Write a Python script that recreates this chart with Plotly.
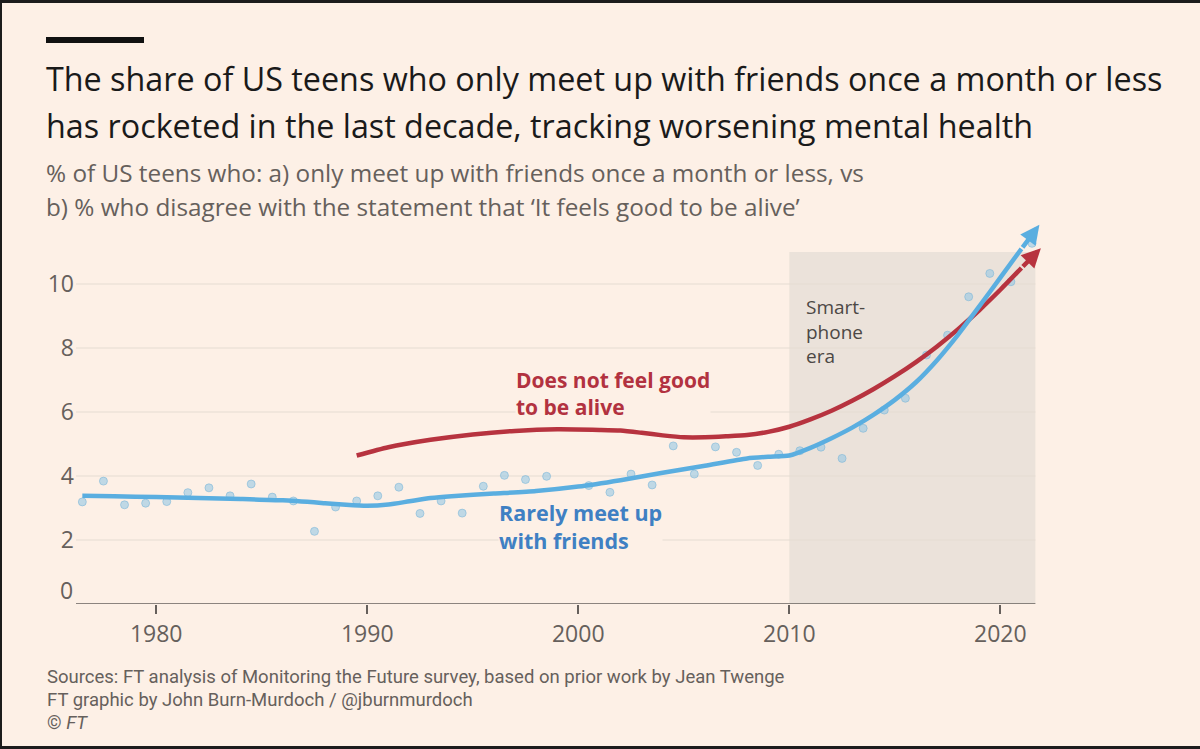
import plotly.graph_objects as go

# yearly survey points: % of teens who meet up with friends once a month or less
years = list(range(1976, 2022))
rarely_meet = [3.19, 3.84, 3.10, 3.15, 3.20, 3.48, 3.63, 3.38, 3.75, 3.34,
               3.22, 2.27, 3.03, 3.22, 3.38, 3.65, 2.83, 3.22, 2.84, 3.68,
               4.02, 3.89, 3.99, 2.68, 3.70, 3.49, 4.06, 3.72, 4.94, 4.06,
               4.91, 4.74, 4.33, 4.68, 4.79, 4.90, 4.55, 5.49, 6.06, 6.43,
               7.78, 8.40, 9.60, 10.33, 10.07, 11.27]

# smoothed trend lines
blue_trend_x = [1976.5, 1978, 1980, 1982, 1984, 1986, 1988, 1989, 1990, 1991,
                1992, 1993, 1994, 1996, 1998, 2000, 2002, 2004, 2006, 2008,
                2009, 2010, 2011, 2012, 2013, 2014, 2015, 2016, 2017, 2018,
                2019, 2020, 2021]
blue_trend = [3.38, 3.37, 3.34, 3.31, 3.28, 3.24, 3.15, 3.10, 3.07, 3.11,
              3.21, 3.31, 3.37, 3.45, 3.53, 3.67, 3.87, 4.10, 4.32, 4.55,
              4.60, 4.64, 4.88, 5.18, 5.52, 5.92, 6.38, 6.93, 7.62, 8.42,
              9.30, 10.20, 11.10]

red_trend_x = [1989.5, 1991, 1993, 1995, 1997, 1999, 2001, 2002, 2003, 2004,
               2005, 2006, 2007, 2008, 2009, 2010, 2011, 2012, 2013, 2014,
               2015, 2016, 2017, 2018, 2019, 2020, 2021]
red_trend = [4.64, 4.90, 5.13, 5.30, 5.41, 5.46, 5.44, 5.42, 5.35, 5.27,
             5.21, 5.21, 5.24, 5.28, 5.38, 5.54, 5.77, 6.04, 6.36, 6.72,
             7.12, 7.56, 8.05, 8.59, 9.18, 9.82, 10.50]

# arrow tips at the end of each trend
blue_tip = (2021.85, 11.85)
red_tip = (2021.92, 11.12)

y_ticks = [2, 4, 6, 8, 10]
x_ticks = [1980, 1990, 2000, 2010, 2020]
smartphone_start = 2010

cream = "#fdf0e6"
shade = "#ebe2da"
grid = "#e6dbd1"
axis_col = "#66605c"
red = "#b7333f"
blue = "#5aaee0"
blue_text = "#3f80c3"
red_text = "#b23240"

# plot area in pixels
L, R, T, B = 76, 149, 220, 145
W, H = 1200, 749
x_lo, x_hi = 1976.2, 2022.4
x_end = 2021.66
y_top = 11.0


def px(p):
    return (p - L) / (W - L - R)


def py(p):
    return (H - B - p) / (H - T - B)


fig = go.Figure()

fig.add_trace(go.Scatter(
    x=[y + 0.5 for y in years], y=rarely_meet, mode="markers",
    marker=dict(size=8, color="rgba(150,200,228,0.6)",
                line=dict(width=1, color="rgba(120,180,215,0.55)")),
    hoverinfo="skip", showlegend=False))

fig.add_trace(go.Scatter(
    x=red_trend_x, y=red_trend, mode="lines",
    line=dict(color=red, width=4.5, shape="spline", smoothing=0.6),
    showlegend=False))

fig.add_trace(go.Scatter(
    x=blue_trend_x, y=blue_trend, mode="lines",
    line=dict(color=blue, width=4.5, shape="spline", smoothing=0.6),
    showlegend=False))

shapes = []
# smartphone era shading
shapes.append(dict(type="rect", xref="x", yref="y", x0=smartphone_start, x1=x_end,
                   y0=0, y1=y_top, fillcolor=shade, line_width=0, layer="below"))
for v in y_ticks:
    shapes.append(dict(type="line", xref="x", yref="y", x0=x_lo, x1=x_end, y0=v, y1=v,
                       line=dict(color=grid, width=1.2), layer="below"))
# x axis line
shapes.append(dict(type="line", xref="x", yref="y", x0=x_lo, x1=x_end, y0=0, y1=0,
                   line=dict(color=axis_col, width=1.6)))
# FT black bar at top
shapes.append(dict(type="rect", xref="paper", yref="paper", x0=px(46), x1=px(144),
                   y0=py(43), y1=py(37), fillcolor="#111111", line_width=0))
# dark screen edges
for x0, x1, y0, y1 in [(0, W, 0, 3), (0, 2, 0, H), (0, W, 746, H)]:
    shapes.append(dict(type="rect", xref="paper", yref="paper", x0=px(x0), x1=px(x1),
                       y0=py(y1), y1=py(y0), fillcolor="#1c1c1c", line_width=0))

annotations = []


def text(s, x, y, size, color, family="Open Sans", anchor="left"):
    annotations.append(dict(text=s, x=px(x), y=py(y), xref="paper", yref="paper",
                            xanchor=anchor, yanchor="middle", showarrow=False,
                            font=dict(family=family, size=size, color=color)))


text("The share of US teens who only meet up with friends once a month or less", 44, 78, 32.3, "#1a1a1a")
text("has rocketed in the last decade, tracking worsening mental health", 44, 125, 32.3, "#1a1a1a")
text("% of US teens who: a) only meet up with friends once a month or less, vs", 44, 172, 24.3, "#66605c")
text("b) % who disagree with the statement that \u2018It feels good to be alive\u2019", 44, 206, 24.3, "#66605c")
text("Sources: FT analysis of Monitoring the Future survey, based on prior work by Jean Twenge",
     45, 677, 18.5, "#66605c", family="Roboto")
text("FT graphic by John Burn-Murdoch / @jburnmurdoch", 45, 700, 18.5, "#66605c", family="Roboto")
text("\u00a9 <i>FT</i>", 45, 723, 18.5, "#66605c", family="Roboto")
text("0", 75, 590, 23, axis_col, anchor="right")

annotations.append(dict(text="<b>Does not feel good<br>to be alive</b>", x=1997.0, y=6.58,
                        xref="x", yref="y", xanchor="left", yanchor="middle", align="left",
                        showarrow=False, bgcolor=cream, borderpad=0,
                        font=dict(family="Open Sans", size=21, color=red_text)))
annotations.append(dict(text="<b>Rarely meet up<br>with friends</b>", x=1996.2, y=2.42,
                        xref="x", yref="y", xanchor="left", yanchor="middle", align="left",
                        showarrow=False, bgcolor=cream, borderpad=0,
                        font=dict(family="Open Sans", size=21.5, color=blue_text)))
annotations.append(dict(text="Smart-<br>phone<br>era", x=2010.7, y=8.53,
                        xref="x", yref="y", xanchor="left", yanchor="middle", align="left",
                        showarrow=False,
                        font=dict(family="Open Sans", size=19, color="#4d4845")))

# arrow heads continuing the trend lines
for tx, ty, tail_x, tail_y, col in [(blue_tip[0], blue_tip[1], blue_trend_x[-1], blue_trend[-1], blue),
                                    (red_tip[0], red_tip[1], red_trend_x[-1], red_trend[-1], red)]:
    annotations.append(dict(x=tx, y=ty, ax=tail_x, ay=tail_y, xref="x", yref="y",
                            axref="x", ayref="y", text="", showarrow=True,
                            arrowhead=2, arrowsize=0.85, arrowwidth=4.5, arrowcolor=col,
                            standoff=0, startstandoff=0))

fig.update_layout(
    width=W, height=H,
    margin=dict(l=L, r=R, t=T, b=B),
    paper_bgcolor=cream, plot_bgcolor=cream,
    shapes=shapes, annotations=annotations,
    showlegend=False,
    xaxis=dict(range=[x_lo, x_hi], tickvals=x_ticks, showgrid=False, zeroline=False,
               showline=False, ticks="outside", ticklen=9, tickwidth=1.6, tickcolor=axis_col,
               tickfont=dict(family="Open Sans", size=23, color=axis_col)),
    yaxis=dict(range=[0, 12], tickvals=y_ticks, showgrid=False, zeroline=False,
               showline=False, ticks="", ticklabelstandoff=1,
               tickfont=dict(family="Open Sans", size=23, color=axis_col)),
)

# the page's default body margin would push the chart off the window edges
fig.write_html("out.html", config={"displayModeBar": False},
               post_script="document.body.style.margin = '0';")
